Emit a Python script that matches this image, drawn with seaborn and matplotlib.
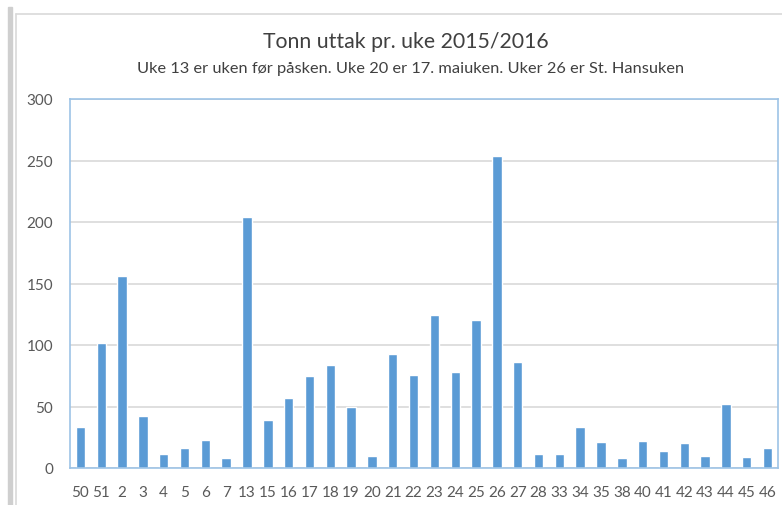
import numpy as np
import pandas as pd
import matplotlib
matplotlib.use("Agg")
import matplotlib.pyplot as plt
import seaborn as sns
from matplotlib.lines import Line2D
from matplotlib.patches import Rectangle

# Data
weeks = ["50", "51", "2", "3", "4", "5", "6", "7", "13", "15", "16", "17", "18", "19",
         "20", "21", "22", "23", "24", "25", "26", "27", "28", "33", "34", "35", "38",
         "40", "41", "42", "43", "44", "45", "46"]
tonn = [33, 102, 156, 42, 11, 16, 23, 8, 204, 39, 57, 75, 84, 50,
        10, 93, 76, 124, 78, 120, 254, 86, 11, 11, 33, 21, 8,
        22, 14, 20, 10, 52, 9, 16]
y_ticks = [0, 50, 100, 150, 200, 250, 300]

title = "Tonn uttak pr. uke 2015/2016"
subtitle = "Uke 13 er uken før påsken. Uke 20 er 17. maiuken. Uker 26 er St. Hansuken"

df = pd.DataFrame({"uke": weeks, "tonn": tonn})

sns.set_theme(style="white")
plt.rcParams["font.family"] = ["Lato", "DejaVu Sans"]

W, H = 782, 506
fig = plt.figure(figsize=(W / 100, H / 100), dpi=100)
fig.patch.set_facecolor("white")

# axes placed in pixel coords: left 70, right 778, top 100, bottom 469
ax = fig.add_axes([70 / W, (H - 469) / H, (778 - 70) / W, (469 - 100) / H])

sns.barplot(data=df, x="uke", y="tonn", color="#5B9BD5", saturation=1,
            width=0.45, ax=ax)

ax.set_ylim(0, 300)
ax.set_yticks(y_ticks)
ax.set_xlim(-0.5, len(weeks) - 0.5)
ax.yaxis.grid(True, color="#D9D9D9", linewidth=1.2)
ax.set_axisbelow(True)
ax.set_xlabel("")
ax.set_ylabel("")

for side in ["left", "right", "top", "bottom"]:
    ax.spines[side].set_visible(True)
    ax.spines[side].set_color("#9DC3E6")
    ax.spines[side].set_linewidth(1.2)

ax.tick_params(axis="both", length=0, colors="#595959", labelsize=11)
ax.tick_params(axis="y", pad=12)
ax.tick_params(axis="x", pad=12)

fig.text(0.519, 1 - 42 / H, title, ha="center", va="center",
         fontsize=15.3, color="#404040")
fig.text(0.525, 1 - 69 / H, subtitle, ha="center", va="center",
         fontsize=11.8, color="#404040")

# chart frame pieces seen at the top/left edge of the screenshot
fig.patches.append(Rectangle((8 / W, 0), 4 / W, 1 - 8 / H, transform=fig.transFigure,
                             color="#CFCFCF", zorder=0))
fig.lines.append(Line2D([16 / W, 16 / W], [0, 1 - 15 / H], transform=fig.transFigure,
                        color="#D9D9D9", linewidth=1.2))
fig.lines.append(Line2D([16 / W, 1], [1 - 15 / H, 1 - 15 / H], transform=fig.transFigure,
                        color="#D9D9D9", linewidth=1.2))

fig.savefig("out.png", dpi=100)
